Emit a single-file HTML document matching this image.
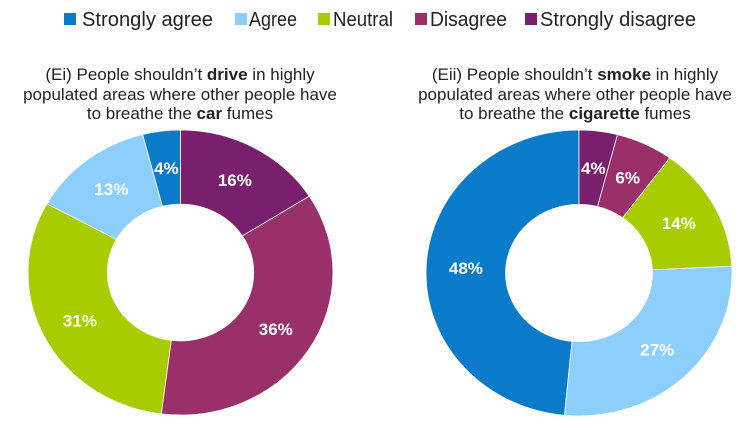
<!DOCTYPE html>
<html><head><meta charset="utf-8"><style>
body{margin:0;background:#fff;width:754px;height:425px;overflow:hidden;font-family:"Liberation Sans",sans-serif}
</style></head><body>
<svg width="754" height="425" id="svg">
<g id="legend"></g>
<text x="180" y="80" text-anchor="middle" font-size="17" fill="#222">(Ei) People shouldn’t <tspan font-weight="bold">drive</tspan> in highly</text>
<text x="180" y="100" text-anchor="middle" font-size="17" fill="#222">populated areas where other people have</text>
<text x="180" y="119" text-anchor="middle" font-size="17" fill="#222">to breathe the <tspan font-weight="bold">car</tspan> fumes</text>
<text x="575" y="80" text-anchor="middle" font-size="17" fill="#222">(Eii) People shouldn’t <tspan font-weight="bold">smoke</tspan> in highly</text>
<text x="575" y="100" text-anchor="middle" font-size="17" fill="#222">populated areas where other people have</text>
<text x="575" y="119" text-anchor="middle" font-size="17" fill="#222">to breathe the <tspan font-weight="bold">cigarette</tspan> fumes</text>
</svg>
<script>
const categories=["Strongly agree","Agree","Neutral","Disagree","Strongly disagree"];
const colors=["#0a7bc9","#8ccfff","#a8cc00","#99306a","#7a1f6e"];
const carValues=[4,13,31,36,16];
const smokeValues=[48,27,14,6,4];
const NS="http://www.w3.org/2000/svg";
const svg=document.getElementById('svg');
const lg=document.getElementById('legend');
const lgX=[64,235,318,415,525];
const lgTX=[82,249,333,430,540];
const lgW=[131,48,60,77,156];
categories.forEach((c,i)=>{
 const r=document.createElementNS(NS,'rect');
 r.setAttribute('x',lgX[i]);r.setAttribute('y',13);r.setAttribute('width',12);r.setAttribute('height',12);r.setAttribute('fill',colors[i]);
 
 
 lg.appendChild(r);
 const t=document.createElementNS(NS,'text');
 t.setAttribute('x',lgTX[i]);t.setAttribute('y',26);t.setAttribute('font-size','20');t.setAttribute('fill','#222');
 t.setAttribute('textLength',lgW[i]);t.setAttribute('lengthAdjust','spacingAndGlyphs');
 t.textContent=c;
 
 
 lg.appendChild(t);
});
function donut(vals,cx,cy,rx,ry,k,name){
 const tot=vals.reduce((a,b)=>a+b,0);
 let a0=0;
 vals.forEach((v,i)=>{
  const a1=a0+v/tot*2*Math.PI;
  const pt=(a,f)=>[cx-Math.sin(a)*rx*f,cy-Math.cos(a)*ry*f];
  const [x0,y0]=pt(a0,1),[x1,y1]=pt(a1,1),[x2,y2]=pt(a1,k),[x3,y3]=pt(a0,k);
  const lf=(a1-a0)>Math.PI?1:0;
  const p=document.createElementNS(NS,'path');
  p.setAttribute('d',`M${x0},${y0}A${rx},${ry} 0 ${lf} 0 ${x1},${y1}L${x2},${y2}A${rx*k},${ry*k} 0 ${lf} 1 ${x3},${y3}Z`);
  p.setAttribute('fill',colors[i]);p.setAttribute('stroke','#fff');p.setAttribute('stroke-width','0.8');
  
  
  svg.appendChild(p);
  const [lx,ly]=pt((a0+a1)/2,(1+k)/2);
  const t=document.createElementNS(NS,'text');
  t.setAttribute('x',lx);t.setAttribute('y',ly+6);t.setAttribute('text-anchor','middle');
  t.setAttribute('font-size','17');t.setAttribute('font-weight','bold');t.setAttribute('fill','#fff');
  t.textContent=v+'%';
  
  
  svg.appendChild(t);
  a0=a1;
 });
}
donut(carValues,180.5,272.5,152.5,142.5,0.48,'drive');
donut(smokeValues,579,273,153,143,0.48,'smoke');
</script>
</body></html>
